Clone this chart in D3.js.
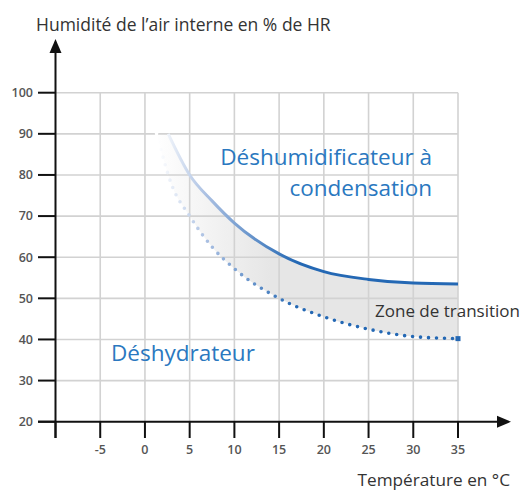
<!DOCTYPE html>
<html lang="fr">
<head>
<meta charset="utf-8">
<script src="https://d3js.org/d3.v7.min.js"></script>
<style>
  body { margin: 0; background: #fff; }
  text { font-family: "Open Sans", sans-serif; }
</style>
</head>
<body>
<script>
// data
var xTicks = [-5, 0, 5, 10, 15, 20, 25, 30, 35];
var yTicks = [20, 30, 40, 50, 60, 70, 80, 90, 100];

// upper bound: condensation dehumidifier (solid)
var upperTemp = [2.6, 5, 7.5, 10, 15, 20, 25, 30, 35];
var upperHum  = [90, 80, 73.7, 68.3, 60.8, 56.5, 54.6, 53.7, 53.5];

// lower bound: desiccant dryer (dotted)
var lowerTemp = [1.3, 3, 5, 7.5, 10, 15, 20, 25, 30, 35];
var lowerHum  = [90, 77.5, 70, 62.5, 57.2, 50, 45.5, 42.5, 40.7, 40.2];

var width = 526, height = 491;
var svg = d3.select('body').append('svg').attr('width', width).attr('height', height);

var x = d3.scaleLinear().domain([-10, 35]).range([55.5, 458]);
var y = d3.scaleLinear().domain([20, 100]).range([421.7, 92.7]);

var upper = upperTemp.map(function(t, i) { return [t, upperHum[i]]; });
var lower = lowerTemp.map(function(t, i) { return [t, lowerHum[i]]; });

var defs = svg.append('defs');

// gradients fading toward the top-left start of the curves
var gFill = defs.append('linearGradient').attr('id', 'gFill')
    .attr('gradientUnits', 'userSpaceOnUse')
    .attr('x1', x(1)).attr('x2', x(14)).attr('y1', 0).attr('y2', 0);
gFill.append('stop').attr('offset', 0).attr('stop-color', '#ffffff');
gFill.append('stop').attr('offset', 1).attr('stop-color', '#e6e6e6');

var gLine = defs.append('linearGradient').attr('id', 'gLine')
    .attr('gradientUnits', 'userSpaceOnUse')
    .attr('x1', x(1.5)).attr('x2', x(17)).attr('y1', 0).attr('y2', 0);
gLine.append('stop').attr('offset', 0).attr('stop-color', '#ffffff');
gLine.append('stop').attr('offset', 0.35).attr('stop-color', '#a9bfe2');
gLine.append('stop').attr('offset', 1).attr('stop-color', '#2468b4');

var lineFn = d3.line()
    .x(function(d) { return x(d[0]); })
    .y(function(d) { return y(d[1]); })
    .curve(d3.curveMonotoneX);

// transition zone between the two curves
var zoneD = lineFn(lower) + 'L' + lineFn(upper.slice().reverse()).slice(1) + 'Z';
svg.append('path').attr('d', zoneD).attr('fill', 'url(#gFill)');

// grid
var grid = svg.append('g').attr('stroke', '#d2d2d2').attr('stroke-width', 1.6);
grid.selectAll('.gy').data(yTicks.slice(1)).join('line')
    .attr('x1', x(-10)).attr('x2', x(35))
    .attr('y1', function(d) { return y(d); }).attr('y2', function(d) { return y(d); });
grid.selectAll('.gx').data(xTicks).join('line')
    .attr('x1', function(d) { return x(d); }).attr('x2', function(d) { return x(d); })
    .attr('y1', y(100)).attr('y2', y(20));

// curves
svg.append('path').attr('d', lineFn(upper))
    .attr('fill', 'none').attr('stroke', 'url(#gLine)').attr('stroke-width', 3);
svg.append('path').attr('d', lineFn(lower))
    .attr('fill', 'none').attr('stroke', 'url(#gLine)').attr('stroke-width', 3.6)
    .attr('stroke-linecap', 'round').attr('stroke-dasharray', '0 8');
var last = lower[lower.length - 1];
svg.append('rect')
    .attr('x', x(last[0]) - 2.5).attr('y', y(last[1]) - 2.5)
    .attr('width', 5).attr('height', 5).attr('fill', '#2468b4');

// axes
var ax = svg.append('g').attr('stroke', '#111').attr('stroke-width', 2);
ax.append('line').attr('x1', 38).attr('x2', 500).attr('y1', y(20)).attr('y2', y(20));
ax.append('line').attr('x1', x(-10)).attr('x2', x(-10)).attr('y1', 438).attr('y2', 48);
ax.selectAll('.ty').data(yTicks).join('line')
    .attr('x1', 38).attr('x2', x(-10))
    .attr('y1', function(d) { return y(d); }).attr('y2', function(d) { return y(d); });
ax.selectAll('.tx').data([-10].concat(xTicks)).join('line')
    .attr('x1', function(d) { return x(d); }).attr('x2', function(d) { return x(d); })
    .attr('y1', y(20)).attr('y2', 438);

svg.append('path')
    .attr('d', 'M' + 511 + ',' + y(20) + 'L497,' + (y(20) - 6) + 'L497,' + (y(20) + 6) + 'Z')
    .attr('fill', '#111');
svg.append('path')
    .attr('d', 'M' + x(-10) + ',39L' + (x(-10) - 6) + ',53L' + (x(-10) + 6) + ',53Z')
    .attr('fill', '#111');

// tick labels
svg.selectAll('.ly').data(yTicks).join('text')
    .attr('x', 33).attr('y', function(d) { return y(d); })
    .attr('dy', '0.35em').attr('text-anchor', 'end')
    .attr('font-size', 12.5).attr('font-weight', 600).attr('fill', '#555')
    .text(function(d) { return d; });
svg.selectAll('.lx').data(xTicks).join('text')
    .attr('x', function(d) { return x(d); }).attr('y', 450)
    .attr('dy', '0.35em').attr('text-anchor', 'middle')
    .attr('font-size', 12.5).attr('font-weight', 600).attr('fill', '#555')
    .text(function(d) { return d; });

// titles
svg.append('text').attr('x', 36).attr('y', 25).attr('dy', '0.35em')
    .attr('font-size', 17.5).attr('fill', '#333')
    .text('Humidité de l’air interne en % de HR');
svg.append('text').attr('x', 510).attr('y', 480).attr('dy', '0.35em')
    .attr('text-anchor', 'end').attr('font-size', 17.2).attr('fill', '#333')
    .text('Température en °C');

// annotations
svg.append('text').attr('x', 432).attr('y', 157).attr('dy', '0.35em')
    .attr('text-anchor', 'end').attr('font-size', 22.5).attr('fill', '#2a78c0')
    .text('Déshumidificateur à');
svg.append('text').attr('x', 432).attr('y', 188.5).attr('dy', '0.35em')
    .attr('text-anchor', 'end').attr('font-size', 22.5).attr('fill', '#2a78c0')
    .text('condensation');
svg.append('text').attr('x', 111).attr('y', 353).attr('dy', '0.35em')
    .attr('font-size', 22.5).attr('fill', '#2a78c0')
    .text('Déshydrateur');
svg.append('text').attr('x', 375).attr('y', 311).attr('dy', '0.35em')
    .attr('font-size', 17).attr('fill', '#333')
    .text('Zone de transition');
</script>
</body>
</html>
